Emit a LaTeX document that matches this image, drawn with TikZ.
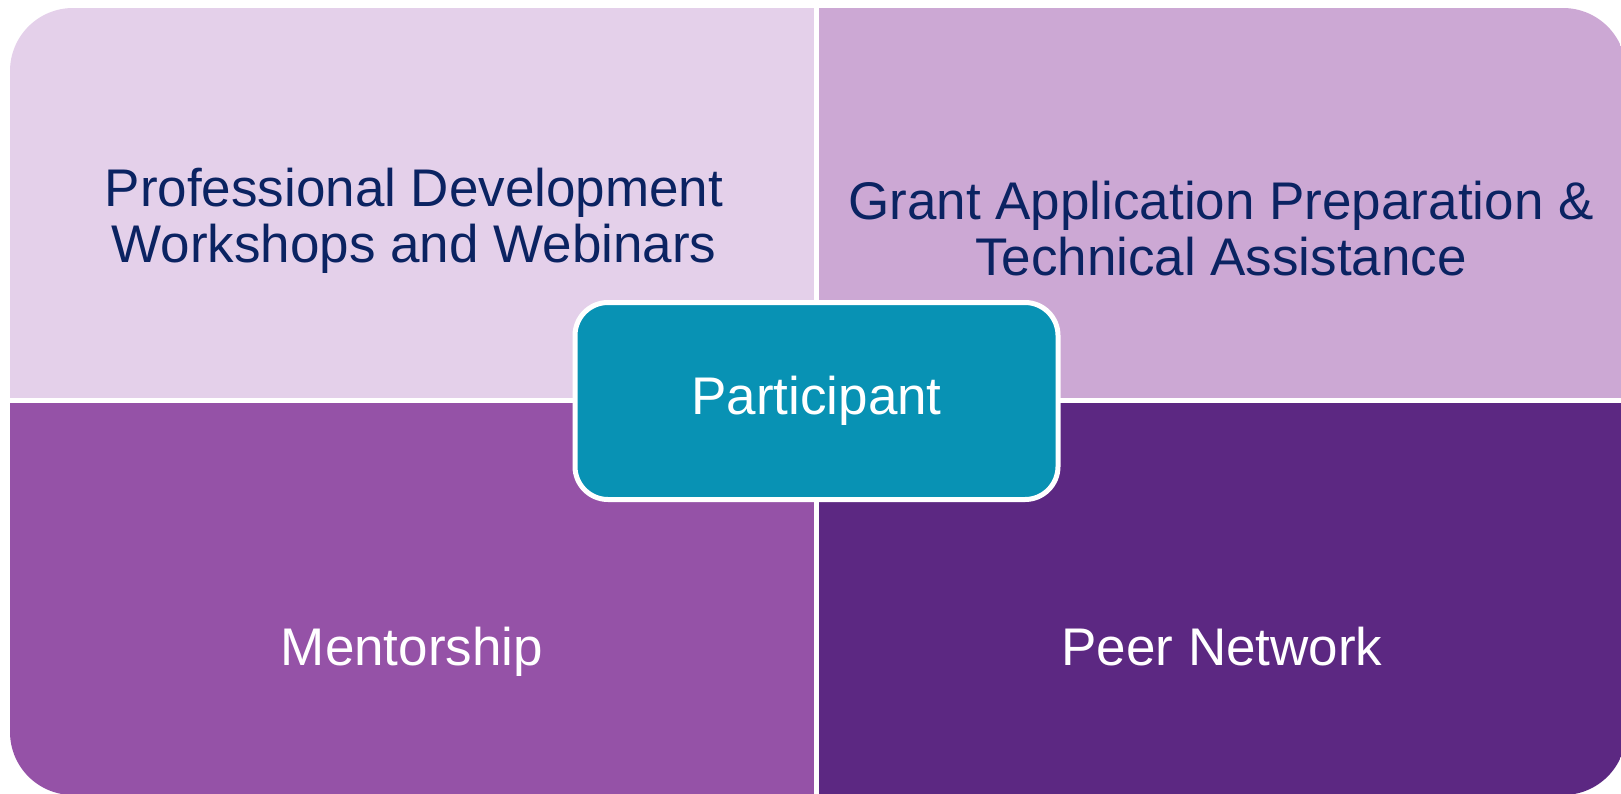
\documentclass[tikz,border=0pt]{standalone}
\usepackage{fontspec}
\setmainfont{Liberation Sans}
\definecolor{pA}{HTML}{E4D0EA}
\definecolor{pB}{HTML}{CCA8D4}
\definecolor{pC}{HTML}{9552A7}
\definecolor{pD}{HTML}{5C2882}
\definecolor{teal}{HTML}{0892B4}
\definecolor{navy}{HTML}{0B2362}
\tikzset{
  lbl/.style={align=center, font=\fontsize{26.5pt}{28pt}\selectfont, inner sep=0pt},
  dark/.style={lbl, text=navy},
  light/.style={lbl, text=white},
  hub/.style={draw=white, line width=2.5pt, fill=teal, rounded corners=16.5pt,
    minimum width=241.5pt, minimum height=98.5pt, inner sep=0pt, light}
}
\begin{document}
\begin{tikzpicture}[x=0.5pt, y=-0.5pt]
\useasboundingbox (0,0) rectangle (1621,793);
\begin{scope}
  \clip[rounded corners=31.5pt] (10,8) rectangle (1626,795);
  \fill[pA] (10,8) rectangle (816.5,400.5);
  \fill[pB] (816.5,8) rectangle (1626,400.5);
  \fill[pC] (10,400.5) rectangle (816.5,795);
  \fill[pD] (816.5,400.5) rectangle (1626,795);
  \draw[white, line width=2.5pt] (816.5,0) -- (816.5,800);
  \draw[white, line width=2.5pt] (0,400.5) -- (1630,400.5);
\end{scope}
\node[dark] (pdw) at (414,221) {Professional Development\\Workshops and Webinars};
\node[dark] (gap) at (1221,229) {Grant Application Preparation \&\\Technical Assistance};
\node[light, anchor=base] (men) at (412,665) {Mentorship};
\node[light, anchor=base] (peer) at (1222,665) {Peer Network};
\node[hub] (part) at (816.5,401) {Participant};
\end{tikzpicture}
\end{document}
